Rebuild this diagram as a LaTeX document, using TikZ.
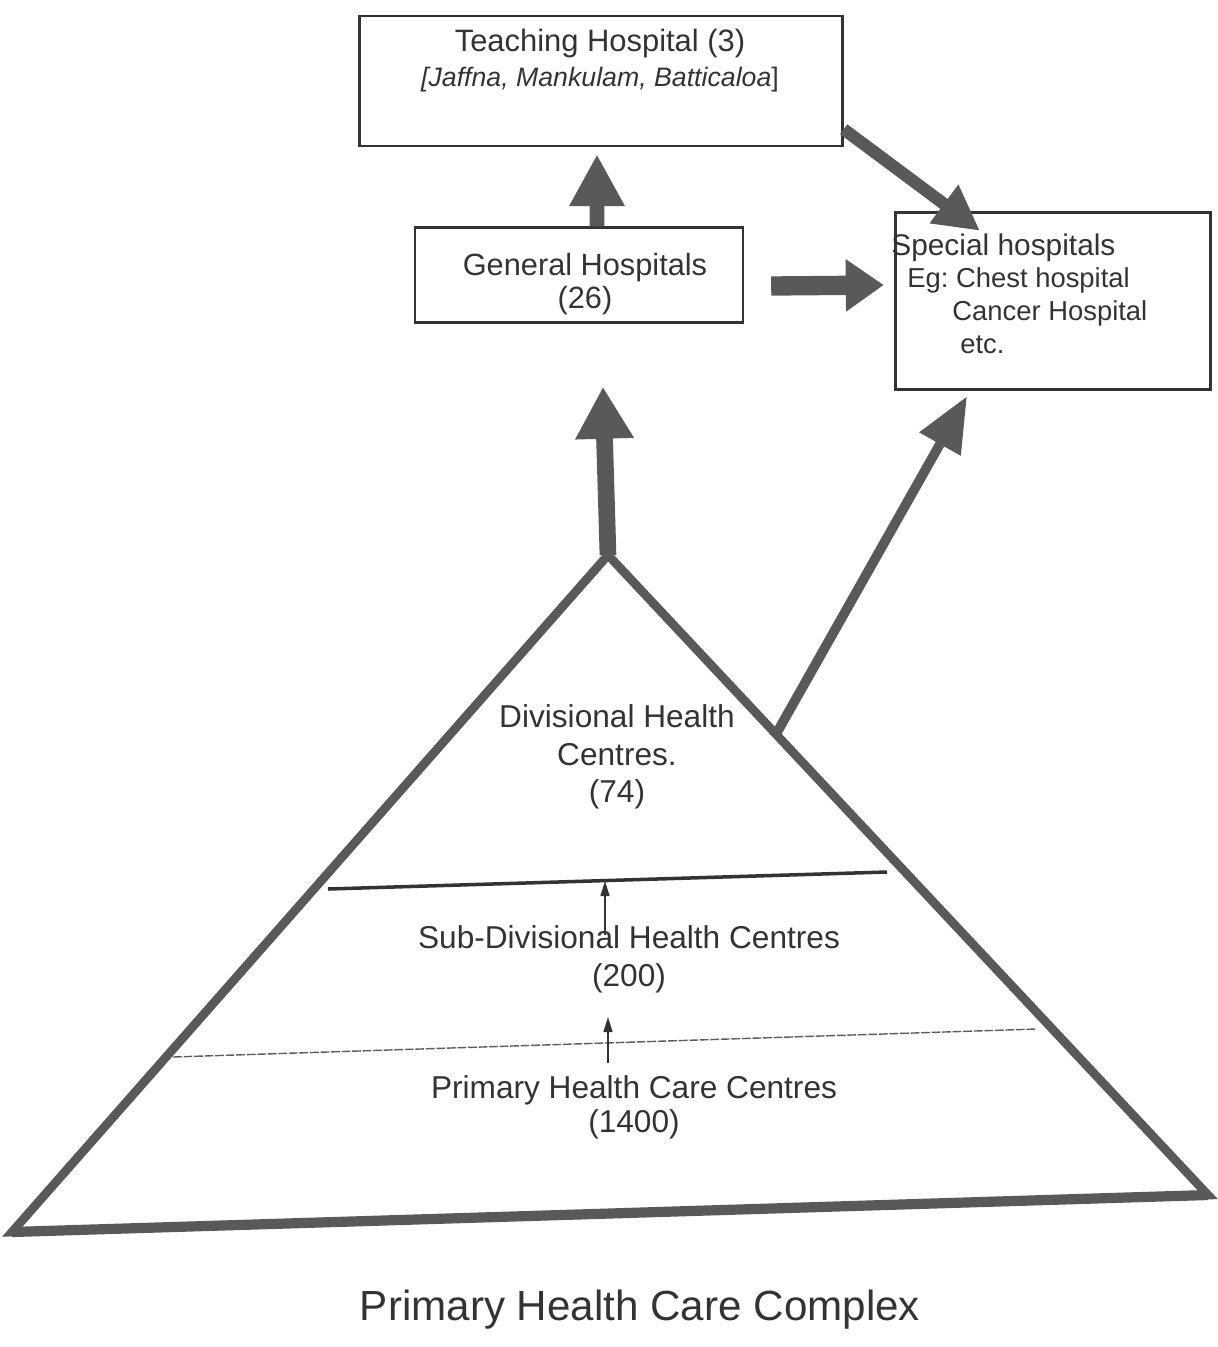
\documentclass[tikz,border=0pt]{standalone}
\usepackage{fontspec}
\setmainfont{Liberation Sans}
\usetikzlibrary{arrows.meta,calc}
\frenchspacing

\definecolor{ink}{HTML}{333333}
\definecolor{lead}{HTML}{595959}

\begin{document}
\begin{tikzpicture}[x=0.02cm, y=-0.02cm,
    box/.style={draw=ink, line width=1.4pt, inner sep=0pt},
    lbl/.style={text=ink, align=center, font=\fontsize{18}{21.5}\selectfont},
    spectxt/.style={text=ink, anchor=west, inner sep=0pt, font=\fontsize{15.6}{18}\selectfont},
    edge/.style={draw=lead, line width=5pt, line join=miter},
    fatarrow/.style={draw=lead, line width=#1},
    thinarrow/.style={draw=ink, line width=0.9pt, -{Triangle[length=0.3cm, width=0.18cm]}}]
  \useasboundingbox (0,0) rectangle (1218,1347);

  % hospitals
  \node[box, minimum width=9.66cm, minimum height=2.6cm] (teach) at (601,81) {};
  \node[lbl, font=\fontsize{17.6}{20}\selectfont] (teachname) at (600,43) {Teaching Hospital (3)};
  \node[lbl, font=\fontsize{15.2}{18}\selectfont] (teachplaces) at (600,80) {\textit{[Jaffna, Mankulam, Batticaloa}]};

  \node[box, minimum width=6.56cm, minimum height=1.9cm] (general) at (579,275) {};
  \node[lbl, font=\fontsize{17.5}{18.8}\selectfont] (gentxt) at (585,284) {General Hospitals\\(26)};

  \node[box, minimum width=6.3cm, minimum height=3.54cm] (special) at (1053,301) {};
  \node[spectxt, font=\fontsize{17}{20}\selectfont] (specname) at (891,248) {Special hospitals};
  \node[spectxt] (speceg) at (907,280) {Eg: Chest hospital};
  \node[spectxt] (speccancer) at (952,313) {Cancer Hospital};
  \node[spectxt] (specetc) at (960,345) {etc.};

  % pyramid
  \coordinate (apex) at (608,555);
  \coordinate (bl) at (12,1232);
  \coordinate (br) at (1208,1195);
  \draw[edge] (apex) -- (br) -- (bl) -- cycle;
  \draw[edge, line width=5.8pt] (bl) -- (br);
  \draw[ink, line width=2pt] (328,889) -- (887,872);
  \draw[ink!80, line width=0.8pt, dash pattern=on 5pt off 1pt] (173,1057) -- (1037,1029);

  \node[lbl] (divlbl) at (617,757) {Divisional Health\\Centres.\\(74)};
  \node[lbl] (subdivlbl) at (629,959) {Sub-Divisional Health Centres\\(200)};
  \node[lbl, font=\fontsize{18}{19.5}\selectfont] (primlbl) at (634,1107) {Primary Health Care Centres\\(1400)};

  \coordinate (up1a) at (605,935);
  \coordinate (up1b) at (605,881);
  \coordinate (up2a) at (608,1063);
  \coordinate (up2b) at (608,1017);
  \draw[thinarrow] (up1a) -- (up1b);
  \draw[thinarrow] (up2a) -- (up2b);

  % referral arrows
  \draw[fatarrow=8.5pt, -{Triangle[length=1.04cm, width=1.04cm]}]
    ([xshift=0.36cm]general.north) -- ([xshift=-0.08cm, yshift=-0.14cm]teach.south);
  \draw[fatarrow=11pt, -{Triangle[length=0.76cm, width=1cm]}]
    ([xshift=0.54cm, yshift=-0.22cm]general.east) -- ([xshift=-0.21cm, yshift=0.32cm]special.west);
  \draw[fatarrow=7pt, -{Triangle[length=0.9cm, width=0.9cm]}]
    ([yshift=0.36cm]teach.south east) -- ([xshift=-1.46cm, yshift=-0.39cm]special.north);
  \draw[fatarrow=9.5pt, -{Triangle[length=1.04cm, width=1.1cm]}]
    (apex) -- ([xshift=0.48cm, yshift=-1.26cm]general.south);
  \draw[fatarrow=5.5pt, -{Triangle[length=1.1cm, width=0.9cm]}]
    ($(apex)!0.28!(br)$) -- ([xshift=-1.72cm, yshift=-0.11cm]special.south);

  \node[lbl, font=\fontsize{24}{28}\selectfont] (title) at (640,1310) {Primary Health Care Complex};
\end{tikzpicture}
\end{document}
